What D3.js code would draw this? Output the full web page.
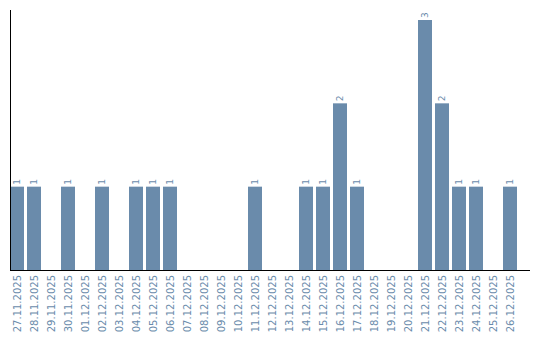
<!DOCTYPE html>
<html>
<head>
<meta charset="utf-8">
<script src="https://cdn.jsdelivr.net/npm/d3@7"></script>
<style>
  body { margin: 0; background: #fff; }
  svg text { font-family: "DejaVu Sans", sans-serif; fill: #6a8bab; }
</style>
</head>
<body>
<div id="vis"></div>
<script>
// dates and counts
var dates = ["27.11.2025","28.11.2025","29.11.2025","30.11.2025","01.12.2025","02.12.2025",
  "03.12.2025","04.12.2025","05.12.2025","06.12.2025","07.12.2025","08.12.2025","09.12.2025",
  "10.12.2025","11.12.2025","12.12.2025","13.12.2025","14.12.2025","15.12.2025","16.12.2025",
  "17.12.2025","18.12.2025","19.12.2025","20.12.2025","21.12.2025","22.12.2025","23.12.2025",
  "24.12.2025","25.12.2025","26.12.2025"];
var counts = [1,1,0,1,0,1,0,1,1,1,0,0,0,0,1,0,0,1,1,2,1,0,0,0,3,2,1,1,0,1];

var chart = {};
chart.width = 540;
chart.height = 340;
chart.left = 10;
chart.top = 20;
chart.bottom = 270;

var svg = d3.select("#vis").append("svg")
  .attr("width", chart.width)
  .attr("height", chart.height);

// step 17, bar 14 wide
var x = d3.scaleBand().domain(dates)
  .range([chart.left, chart.left + 17 * (dates.length - 3 / 17)])
  .paddingInner(3 / 17).paddingOuter(0);
var y = d3.scaleLinear().domain([0, d3.max(counts)]).range([chart.bottom, chart.top]);

var data = dates.map(function(d, i) { return { date: d, n: counts[i] }; });
var filled = data.filter(function(d) { return d.n > 0; });

// bars
svg.selectAll("rect.bar")
  .data(filled)
  .enter().append("rect")
  .attr("class", "bar")
  .attr("x", function(d) { return x(d.date); })
  .attr("y", function(d) { return y(d.n); })
  .attr("width", x.bandwidth())
  .attr("height", function(d) { return chart.bottom - y(d.n); })
  .attr("fill", "#6a8bab");

// value labels
svg.selectAll("text.val")
  .data(filled)
  .enter().append("text")
  .attr("class", "val")
  .attr("transform", function(d) {
    var cx = x(d.date) + x.bandwidth() / 2 + 3;
    return "translate(" + cx + "," + (y(d.n) - 2) + ") rotate(-90)";
  })
  .style("font-size", "9px")
  .text(function(d) { return d.n; });

// x labels
svg.selectAll("text.xl")
  .data(dates)
  .enter().append("text")
  .attr("class", "xl")
  .attr("text-anchor", "end")
  .attr("transform", function(d) {
    var cx = x(d) + x.bandwidth() / 2 + 4;
    return "translate(" + cx + "," + (chart.bottom + 5) + ") rotate(-90)";
  })
  .style("font-size", "10px")
  .text(function(d) { return d; });

// axis lines
svg.append("line")
  .attr("x1", chart.left + 0.5).attr("x2", chart.left + 0.5)
  .attr("y1", 10).attr("y2", chart.bottom)
  .attr("stroke", "#000");
svg.append("line")
  .attr("x1", chart.left).attr("x2", 530)
  .attr("y1", chart.bottom + 0.5).attr("y2", chart.bottom + 0.5)
  .attr("stroke", "#000");
</script>
</body>
</html>
